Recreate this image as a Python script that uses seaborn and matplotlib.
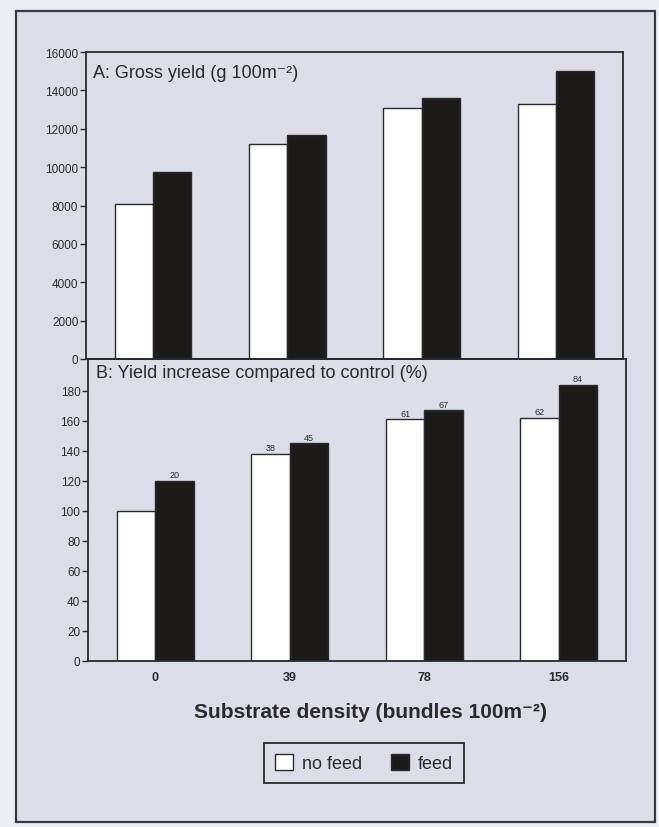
import matplotlib
matplotlib.use("Agg")
import matplotlib.pyplot as plt
from matplotlib.patches import Rectangle, Patch
import seaborn as sns
import pandas as pd

# ---- data ----
densities = ["0", "39", "78", "156"]
treatments = ["no feed", "feed"]
gross_no_feed = [8100, 11200, 13100, 13300]
gross_feed = [9750, 11700, 13600, 15000]
incr_no_feed = [100, 138, 161, 162]
incr_feed = [120, 145, 167, 184]
incr_labels_no_feed = ["", "38", "61", "62"]
incr_labels_feed = ["20", "45", "67", "84"]
yticks_a = [0, 2000, 4000, 6000, 8000, 10000, 12000, 14000, 16000]
yticks_b = [0, 20, 40, 60, 80, 100, 120, 140, 160, 180]

df_a = pd.DataFrame({
    "density": densities * 2,
    "treatment": ["no feed"] * 4 + ["feed"] * 4,
    "value": gross_no_feed + gross_feed,
})
df_b = pd.DataFrame({
    "density": densities * 2,
    "treatment": ["no feed"] * 4 + ["feed"] * 4,
    "value": incr_no_feed + incr_feed,
})

sns.set_theme(style="ticks")
plt.rcParams["font.family"] = ["Liberation Sans", "DejaVu Sans"]

BG = "#dcdde7"
INK = "#2a2a2e"
palette = {"no feed": "white", "feed": "#1d1a1a"}

W, H = 659, 828
fig = plt.figure(figsize=(W / 100, H / 100), dpi=100)
fig.patch.set_facecolor("#eceef3")

# outer page frame
fig.add_artist(Rectangle((16 / W, 1 - 823 / H), (655 - 16) / W, (823 - 12) / H,
                         transform=fig.transFigure, facecolor=BG,
                         edgecolor="#3a3a40", lw=1.6, zorder=0))

def px_axes(l, t, r, b):
    return fig.add_axes([l / W, 1 - b / H, (r - l) / W, (b - t) / H])

ax_a = px_axes(86, 53, 623, 360)
ax_b = px_axes(88, 360, 626, 662)

for ax, df in ((ax_a, df_a), (ax_b, df_b)):
    sns.barplot(data=df, x="density", y="value", hue="treatment",
                order=densities, hue_order=treatments, palette=palette,
                width=0.57, edgecolor=INK, linewidth=1.0, saturation=1,
                legend=False, ax=ax, errorbar=None)
    ax.set_facecolor("none")
    ax.set_xlim(-0.5, 3.5)
    ax.set_xlabel("")
    ax.set_ylabel("")
    for s in ax.spines.values():
        s.set_visible(True)
        s.set_color(INK)
        s.set_linewidth(1.3)
    ax.tick_params(axis="y", direction="out", length=4, width=1, color=INK,
                   labelsize=8.5, labelcolor=INK, pad=1.5)
    ax.tick_params(axis="x", length=0)

# panel A
ax_a.set_ylim(0, 16000)
ax_a.set_yticks(yticks_a)
ax_a.set_xticklabels([])
ax_a.text(0.013, 0.962, "A: Gross yield (g 100m⁻²)", transform=ax_a.transAxes,
          ha="left", va="top", fontsize=13, color=INK)

# panel B
ax_b.set_ylim(0, 201)
ax_b.set_yticks(yticks_b)
ax_b.set_xticks(range(len(densities)))
ax_b.set_xticklabels(densities, fontsize=9, fontweight="bold", color=INK)
ax_b.tick_params(axis="x", pad=7)
ax_b.text(0.015, 0.985, "B: Yield increase compared to control (%)",
          transform=ax_b.transAxes, ha="left", va="top", fontsize=13, color=INK)
ax_b.bar_label(ax_b.containers[0], labels=incr_labels_no_feed, fontsize=6.5,
               color=INK, padding=1)
ax_b.bar_label(ax_b.containers[1], labels=incr_labels_feed, fontsize=6.5,
               color=INK, padding=1)

# x label
fig.text(370 / W, 1 - 713 / H, "Substrate density (bundles 100m⁻²)",
         ha="center", va="center", fontsize=15, fontweight="bold", color=INK)

# legend
handles = [Patch(facecolor=palette[t], edgecolor=INK, linewidth=1) for t in treatments]
leg = fig.legend(handles, treatments, loc="center",
                 bbox_to_anchor=(364 / W, 1 - 764 / H), ncol=2, frameon=True,
                 fancybox=False, edgecolor=INK, facecolor=BG, framealpha=1,
                 fontsize=13, handlelength=1.0, handleheight=1.0,
                 columnspacing=1.6, handletextpad=0.5, borderpad=0.6,
                 borderaxespad=0)
leg.get_frame().set_linewidth(1.3)
for t in leg.get_texts():
    t.set_color(INK)

fig.savefig("out.png", dpi=100, facecolor=fig.get_facecolor())
